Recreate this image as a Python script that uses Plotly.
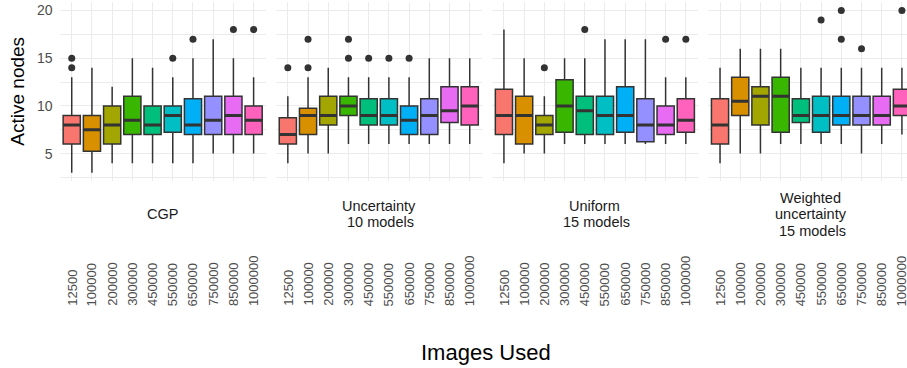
import plotly.graph_objects as go

# ---------------- data ----------------
categories = ["12500", "100000", "200000", "300000", "450000",
              "550000", "650000", "750000", "850000", "1000000"]
facet_labels = ["CGP", "Uncertainty<br>\u00a010 models", "Uniform<br>\u00a015 models",
                "Weighted<br>uncertainty<br>\u00a015 models"]
colors = ["#F8766D", "#D89000", "#A3A500", "#39B600", "#00BF7D",
          "#00BFC4", "#00B0F6", "#9590FF", "#E76BF3", "#FF62BC"]

cgp_lower = [3, 3, 4, 4, 4, 4, 4, 5, 5, 5]
cgp_q1 = [6, 5.25, 6, 7, 7, 7.25, 7, 7, 7, 7]
cgp_med = [8, 7.5, 8, 8.5, 8, 9, 8, 8.5, 9, 8.5]
cgp_q3 = [9, 9, 10, 11, 10, 10, 10.75, 11, 11, 10]
cgp_upper = [13, 14, 12, 15, 14, 13, 15, 17, 15, 13]
cgp_out_x = [1, 1, 6, 7, 9, 10]
cgp_out_y = [14, 15, 15, 17, 18, 18]

unc_lower = [4, 5, 5, 6, 6, 6, 6, 6, 6, 6]
unc_q1 = [6, 7, 8, 9, 8, 8, 7, 7, 8.25, 8]
unc_med = [7, 9, 9, 10, 9, 9, 8.5, 9, 9.5, 10]
unc_q3 = [8.75, 9.75, 11, 11, 10.75, 10.75, 10, 10.75, 12, 12]
unc_upper = [11, 13, 14, 13, 13, 13, 13, 15, 15, 15]
unc_out_x = [1, 2, 2, 4, 4, 5, 6, 7]
unc_out_y = [14, 14, 17, 15, 17, 15, 15, 15]

uni_lower = [4, 5, 5, 6, 6, 6, 6, 6, 6, 6]
uni_q1 = [7, 6, 7, 7.25, 7, 7, 7.25, 6.25, 7, 7.25]
uni_med = [9, 9, 8, 10, 9.5, 9, 9, 8, 8, 8.5]
uni_q3 = [11.75, 11, 9, 12.75, 11, 11, 12, 10.75, 10, 10.75]
uni_upper = [18, 15, 11, 15, 15, 17, 17, 17, 13, 13]
uni_out_x = [3, 5, 9, 10]
uni_out_y = [14, 18, 17, 17]

wun_lower = [4, 5, 5, 6, 6, 6, 6, 5, 6, 7]
wun_q1 = [6, 9, 8, 7.25, 8.25, 7.25, 8, 8, 8, 9]
wun_med = [8, 10.5, 11, 11, 9, 9, 9, 9, 9, 10]
wun_q3 = [10.75, 13, 12, 13, 10.75, 11, 11, 11, 11, 11.75]
wun_upper = [14, 16, 16, 16, 14, 14, 14, 14, 14, 14]
wun_out_x = [6, 7, 7, 8, 10]
wun_out_y = [19, 17, 20, 16, 20]

y_ticks = [5, 10, 15, 20]

panels = [
    (cgp_lower, cgp_q1, cgp_med, cgp_q3, cgp_upper, cgp_out_x, cgp_out_y),
    (unc_lower, unc_q1, unc_med, unc_q3, unc_upper, unc_out_x, unc_out_y),
    (uni_lower, uni_q1, uni_med, uni_q3, uni_upper, uni_out_x, uni_out_y),
    (wun_lower, wun_q1, wun_med, wun_q3, wun_upper, wun_out_x, wun_out_y),
]

# ---------------- layout geometry (pixels) ----------------
W, H = 907, 368
step = 20.21          # px per category
panel_w = step * 10.2
lefts = [59.6 + k * 216.1 for k in range(4)]
y_top, y_bot = 2.4, 180.8
y_range = [2.15, 20.85]
strip_center, strip_line = 214, 16.5

LINE = "#333333"
GRID = "#EBEBEB"
FONT = "Liberation Sans, Arial, sans-serif"

fig = go.Figure()
layout = dict(
    width=W, height=H,
    margin=dict(l=0, r=0, t=0, b=0, autoexpand=False),
    paper_bgcolor="white", plot_bgcolor="white",
    showlegend=False, boxmode="overlay",
    font=dict(family=FONT),
)
annotations = []
xidx = list(range(1, 11))

for k, (lo, q1, med, q3, up, ox, oy) in enumerate(panels):
    ax = "" if k == 0 else str(k + 1)
    xref, yref = "x" + ax, "y" + ax
    left = lefts[k]
    right = min(left + panel_w, W)
    xmax = 0.4 + (right - left) / step
    layout["xaxis" + ax] = dict(
        domain=[left / W, right / W], range=[0.4, xmax], anchor=yref,
        tickvals=xidx, showticklabels=False, showgrid=True, automargin=False,
        gridcolor=GRID, gridwidth=1.4, zeroline=False, showline=False, ticks="",
    )
    layout["yaxis" + ax] = dict(
        domain=[1 - y_bot / H, 1 - y_top / H], range=y_range, anchor=xref,
        tickvals=y_ticks, showticklabels=(k == 0), showgrid=True, automargin=False,
        gridcolor=GRID, gridwidth=1.4, zeroline=False, showline=False, ticks="",
        tickfont=dict(size=14, color="#4D4D4D", family=FONT),
        ticklabelstandoff=6,
        minor=dict(tickvals=[2.5, 7.5, 12.5, 17.5], showgrid=True,
                   gridcolor=GRID, gridwidth=0.8),
    )
    for i in range(10):
        fig.add_trace(go.Box(
            x=[xidx[i]], q1=[q1[i]], median=[med[i]], q3=[q3[i]],
            lowerfence=[lo[i]], upperfence=[up[i]],
            width=0.85, whiskerwidth=0, boxpoints=False,
            fillcolor=colors[i], line=dict(color=LINE, width=1.5),
            xaxis=xref, yaxis=yref, hoverinfo="skip",
        ))
    # thicker median bars (as in ggplot)
    mx, my = [], []
    for i in range(10):
        mx += [xidx[i] - 0.425, xidx[i] + 0.425, None]
        my += [med[i], med[i], None]
    fig.add_trace(go.Scatter(x=mx, y=my, mode="lines",
                             line=dict(color=LINE, width=3),
                             xaxis=xref, yaxis=yref, hoverinfo="skip"))
    fig.add_trace(go.Scatter(x=ox, y=oy, mode="markers",
                             marker=dict(color=LINE, size=7),
                             xaxis=xref, yaxis=yref, hoverinfo="skip"))
    # facet strip label (below panel), one annotation per line for tight spacing
    lines = facet_labels[k].split("<br>")
    n = len(lines)
    for j, txt in enumerate(lines):
        yc = strip_center + (j - (n - 1) / 2) * strip_line
        annotations.append(dict(
            text=txt, xref="paper", yref="paper",
            x=(left + panel_w / 2) / W, y=1 - yc / H,
            xanchor="center", yanchor="middle", showarrow=False,
            font=dict(size=14.5, color="#1A1A1A", family=FONT),
        ))
    # x tick labels (rotated, bottom-aligned)
    for i in range(10):
        annotations.append(dict(
            text=categories[i], xref=xref, yref="paper",
            x=xidx[i], y=1 - 308 / H, textangle=-90,
            xanchor="center", yanchor="bottom", showarrow=False,
            font=dict(size=13, color="#4D4D4D", family=FONT),
        ))

annotations.append(dict(
    text="Images Used", xref="paper", yref="paper",
    x=486 / W, y=1 - 352 / H, xanchor="center", yanchor="middle",
    showarrow=False, font=dict(size=22, color="black", family=FONT),
))
annotations.append(dict(
    text="Active nodes", xref="paper", yref="paper",
    x=18 / W, y=1 - 91.7 / H, xanchor="center", yanchor="middle",
    textangle=-90, showarrow=False,
    font=dict(size=19, color="black", family=FONT),
))
layout["annotations"] = annotations
fig.update_layout(**layout)
fig.write_html("out.html",
               config={"displayModeBar": False},
               post_script="document.body.style.margin='0';"
                           "document.body.style.overflow='hidden';")
